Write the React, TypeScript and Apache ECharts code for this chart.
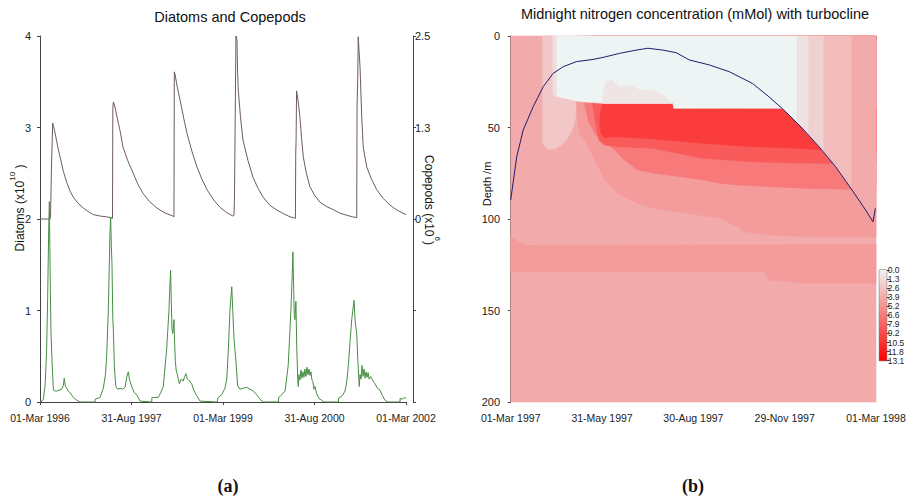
import React, { useEffect, useRef } from 'react';
import * as echarts from 'echarts';

// ---------- Panel (a): Diatoms and Copepods ----------
const DATES_A = ['01-Mar 1996', '31-Aug 1997', '01-Mar 1999', '31-Aug 2000', '01-Mar 2002'];
const SPAN_A = 2191; // days from 01-Mar 1996 to 01-Mar 2002
const DIATOM_TICKS = [0, 1, 2, 3, 4];
const COPEPOD_LABELS: Record<string, string> = { '0': '0', '1.25': '1.3', '2.5': '2.5' };

// [day since 01-Mar 1996, diatoms x1e10]
const DIATOMS: number[][] = [
  [0, 0], [12, 0.01], [20, 0.03], [30, 0.17], [36, 0.4], [40, 0.6], [46, 1.15], [52, 1.88], [56, 2.19], [59, 1.7],
  [62, 1.2], [66, 0.75], [72, 0.45], [80, 0.13], [90, 0.12], [100, 0.12], [115, 0.13], [130, 0.14], [140, 0.18],
  [145, 0.26], [152, 0.17], [160, 0.15], [170, 0.12], [180, 0.1], [200, 0.05], [220, 0.02], [239, 0],
  [329, 0], [330, 0.03], [359, 0.05], [379, 0.15], [392, 0.3], [399, 0.5], [409, 1.0], [419, 1.85], [423, 2.02],
  [427, 1.7], [431, 1.5], [436, 0.9], [439, 0.8], [445, 0.4], [449, 0.28], [454, 0.17], [465, 0.14], [479, 0.15],
  [495, 0.14], [509, 0.16], [520, 0.28], [529, 0.33], [535, 0.25], [549, 0.17], [565, 0.1], [579, 0.08], [599, 0.01],
  [669, 0], [670, 0.05], [708, 0.05], [722, 0.1], [738, 0.17], [758, 0.57], [772, 1.0], [778, 1.3], [782, 1.44],
  [786, 1.1], [790, 0.8], [795, 0.75], [802, 0.9], [806, 0.65], [810, 0.45], [815, 0.35], [822, 0.3], [828, 0.25],
  [835, 0.2], [845, 0.25], [858, 0.23], [866, 0.28], [874, 0.31], [882, 0.25], [890, 0.24], [898, 0.22], [908, 0.2],
  [920, 0.13], [938, 0.07], [958, 0.01],
  [1060, 0], [1067, 0.05], [1088, 0.08], [1107, 0.15], [1118, 0.25], [1127, 0.55], [1137, 1.0], [1148, 1.26],
  [1154, 1.0], [1161, 0.7], [1168, 0.55], [1173, 0.45], [1183, 0.18], [1197, 0.14], [1215, 0.15], [1237, 0.16],
  [1257, 0.14], [1277, 0.12], [1297, 0.08], [1317, 0.03], [1337, 0],
  [1427, 0], [1428, 0.05], [1437, 0.06], [1467, 0.12], [1486, 0.4], [1502, 1.0], [1510, 1.4], [1514, 1.64],
  [1518, 1.3], [1522, 0.95], [1526, 0.9], [1532, 1.1], [1537, 0.6], [1543, 0.25], [1546, 0.17], [1550, 0.3],
  [1556, 0.24], [1562, 0.35], [1568, 0.26], [1574, 0.33], [1580, 0.27], [1586, 0.36], [1592, 0.28], [1598, 0.38],
  [1604, 0.3], [1610, 0.36], [1616, 0.29], [1622, 0.33], [1628, 0.24], [1634, 0.22], [1640, 0.14], [1646, 0.17],
  [1656, 0.09], [1670, 0.04], [1686, 0.02], [1700, 0],
  [1786, 0], [1787, 0.04], [1810, 0.07], [1826, 0.12], [1836, 0.22], [1846, 0.4], [1856, 0.66], [1866, 0.9],
  [1880, 1.11], [1886, 0.9], [1896, 0.74], [1903, 0.45], [1911, 0.17], [1916, 0.3], [1922, 0.25], [1928, 0.4],
  [1934, 0.28], [1940, 0.36], [1946, 0.26], [1952, 0.33], [1958, 0.27], [1964, 0.32], [1970, 0.25], [1980, 0.28],
  [1990, 0.24], [2005, 0.2], [2020, 0.15], [2035, 0.13], [2050, 0.07], [2065, 0.02], [2080, 0], [2155, 0],
  [2156, 0.04], [2170, 0.03], [2180, 0.05], [2191, 0.04],
];

// [day since 01-Mar 1996, copepods x1e6]
const COPEPODS: number[][] = [
  [0, 0], [60, 0], [63, 0.02], [66, 0.02], [69, 0.75], [76, 1.31], [80, 1.28], [90, 1.18], [105, 1.0], [120, 0.85],
  [140, 0.65], [160, 0.5], [180, 0.38], [199, 0.3], [230, 0.21], [259, 0.15], [290, 0.1], [319, 0.06], [360, 0.04],
  [399, 0.03], [434, 0.01], [436, 1.5], [439, 1.6], [449, 1.53], [465, 1.35], [479, 1.21], [497, 0.98], [525, 0.8],
  [557, 0.63], [585, 0.48], [617, 0.35], [655, 0.24], [700, 0.15], [750, 0.08], [796, 0.04], [802, 0.03],
  [804, 2.01], [808, 1.98], [822, 1.8], [838, 1.63], [860, 1.38], [880, 1.17], [910, 0.92], [940, 0.71], [970, 0.54],
  [1000, 0.4], [1040, 0.26], [1077, 0.16], [1115, 0.09], [1155, 0.04], [1161, 0.05], [1164, 0.25], [1173, 2.5],
  [1179, 2.45], [1183, 2.0], [1187, 1.76], [1200, 1.4], [1215, 1.08], [1245, 0.8], [1275, 0.57], [1305, 0.42],
  [1335, 0.3], [1375, 0.19], [1419, 0.12], [1460, 0.07], [1497, 0.03], [1529, 0.01], [1531, 0.9], [1533, 1.07],
  [1536, 1.75], [1546, 1.6], [1556, 1.39], [1566, 1.1], [1576, 0.85], [1595, 0.62], [1616, 0.44], [1645, 0.32],
  [1676, 0.23], [1715, 0.17], [1754, 0.13], [1795, 0.08], [1838, 0.05], [1870, 0.03], [1896, 0.02], [1898, 1.55],
  [1902, 1.9], [1905, 2.49], [1910, 2.3], [1916, 2.07], [1926, 1.39], [1935, 0.98], [1956, 0.71], [1985, 0.54],
  [2016, 0.4], [2055, 0.28], [2095, 0.19], [2125, 0.14], [2155, 0.1], [2191, 0.06],
];

// ---------- Panel (b): nitrogen field ----------
const DATES_B = ['01-Mar 1997', '31-May 1997', '30-Aug 1997', '29-Nov 1997', '01-Mar 1998'];
const SPAN_B = 365;
const COLORBAR_MAX = 13.1;

// turbocline [day since 01-Mar 1997, depth m]
const TURBOCLINE: number[][] = [
  [0, 89.6], [6, 66], [12.5, 51.4], [22.5, 38.6], [32.5, 27.7], [42.4, 20.4], [52.4, 16.8], [65.7, 14.0],
  [82.2, 12.8], [92.2, 11.7], [108.8, 9.5], [125.5, 7.7], [137, 6.7], [152, 7.7], [165.3, 9.1], [178.5, 13.1],
  [198.4, 15.8], [218.3, 19.5], [241.5, 25.9], [258, 33.2], [274.8, 41.4], [291.3, 50.4], [308, 60.5],
  [324.6, 71.4], [341.1, 84.2], [354.5, 95], [362, 101.5], [364.4, 94.2],
];

// concentration regions: boundaries as [day, depth]
const N_BASE = [[0, 0], [365, 0], [365, 200], [0, 200]];
const N_DEEP = [[0, 109.7], [8, 112.5], [16, 114.5], [365, 114], [365, 135], [291, 135], [258, 133.3], [253, 128.8], [0, 128.8]];
const N_LIGHT = [[32, 0], [46, 0], [46, 33], [65.7, 35.5], [65.7, 40], [64, 47], [60, 53], [54, 58], [45, 61.5], [37, 62], [32, 59]];
const N_LIGHTER = [[42, 0], [46, 0], [46, 33], [42, 32]];
const N_L1 = [[65.7, 0], [365, 0], [365, 109.7], [293, 109.7], [260, 108.7], [233.3, 106.9], [226.6, 104.2], [210, 99.6],
  [176.8, 96.9], [143.7, 94.2], [127, 91.4], [107.1, 86], [93.9, 78.7], [84, 67.8], [74, 56.8], [69, 54.1], [67, 45.9], [65.7, 37.7]];
const N_L2 = [[74, 0], [365, 0], [365, 84], [293, 83.2], [260, 82.3], [226.6, 81.4], [210, 80.5], [193.5, 78.7], [170.3, 76.9],
  [143.7, 75], [127, 73.2], [113.8, 67.8], [103.8, 62.3], [95, 58], [85, 54], [78, 47], [74, 37.5]];
const N_L3 = [[82, 0], [365, 0], [365, 70], [288, 69.4], [241.6, 68.7], [191.8, 66.8], [142, 61.4], [108.8, 60.5],
  [93.9, 59.6], [88, 56.8], [85.6, 50], [82, 37.5]];
const N_CORE = [[92, 36.8], [162, 36.8], [163, 39.5], [365, 39.5], [365, 62.3], [311, 62.3], [288, 61.4], [241.6, 60.5],
  [191.8, 58.6], [148.7, 56.5], [108.8, 55], [100, 55.2], [93, 55.5], [90, 53], [89, 48], [89.5, 42]];
const N_SURFACE_TOP = [[46, 0], [286.4, 0]];
const N_SURFACE_BOTTOM = [[163, 39.5], [162, 36.8], [92, 36.8], [74, 36], [65.7, 35.5], [46, 33]];
const N_SURFACE_TC = [286.4, 270.9];
const N_WISP = [[92, 33], [95, 25], [101, 24], [109, 28], [120, 27], [129, 29.5], [145, 30], [154, 33], [160.6, 36.8], [92, 36.8]];
const N_STRIPE_EDGES = [286.4, 298, 313, 341, 365];
const N_STRIPE_VALUES = [1.0, 1.9, 3.0, 3.95];
const N_VALUES = [3.95, 4.7, 2.4, 1.3, 4.8, 6.6, 8.2, 9.9, 0, 0.8];

function tcDepth(d: number): number {
  for (let i = 0; i < TURBOCLINE.length - 1; i++) {
    const [d0, z0] = TURBOCLINE[i];
    const [d1, z1] = TURBOCLINE[i + 1];
    if (d >= d0 && d <= d1) return z0 + ((d - d0) / (d1 - d0)) * (z1 - z0);
  }
  return TURBOCLINE[TURBOCLINE.length - 1][1];
}
function tcSeg(from: number, to: number): number[][] {
  const lo = Math.min(from, to), hi = Math.max(from, to);
  const pts = [[lo, tcDepth(lo)], ...TURBOCLINE.filter((p) => p[0] > lo && p[0] < hi), [hi, tcDepth(hi)]];
  return from > to ? pts.reverse() : pts;
}

const SURFACE = [...N_SURFACE_TOP, ...tcSeg(N_SURFACE_TC[0], N_SURFACE_TC[1]), ...N_SURFACE_BOTTOM];
const STRIPES = N_STRIPE_VALUES.map((_, i) => {
  const a = N_STRIPE_EDGES[i], b = N_STRIPE_EDGES[i + 1];
  return [[a, 0], [b, 0], ...tcSeg(b, a)];
});
const LAYERS = [N_BASE, N_DEEP, N_LIGHT, N_LIGHTER, N_L1, N_L2, N_L3, N_CORE, SURFACE, N_WISP, ...STRIPES];
const LAYER_VALUES = [...N_VALUES, ...N_STRIPE_VALUES];

const FONT = 'Liberation Sans';
const AXIS_COLOR = '#444';
const LABEL_COLOR = '#222';
const CMAP = ['#eef4f4', '#ff0000'];

export default function App() {
  const ref = useRef<HTMLDivElement>(null);
  useEffect(() => {
    const chart = echarts.init(ref.current!, null, { renderer: 'svg' });
    const axisCommon = {
      axisLine: { show: true, lineStyle: { color: AXIS_COLOR, width: 1 } },
      axisTick: { show: true, length: 3, lineStyle: { color: AXIS_COLOR } },
      axisLabel: { color: LABEL_COLOR, fontSize: 10.5, fontFamily: FONT, margin: 4 },
      splitLine: { show: false },
    };
    const stepA = SPAN_A / (DATES_A.length - 1);
    const stepB = SPAN_B / (DATES_B.length - 1);
    const option: any = {
      animation: false,
      textStyle: { fontFamily: FONT },
      grid: [
        { left: 40, top: 36, width: 366, height: 366 },
        { left: 510.7, top: 36, width: 365.3, height: 366 },
        { left: 879.3, top: 270, width: 7.4, height: 90.7, show: true, borderColor: '#333', borderWidth: 0.8 },
      ],
      xAxis: [
        {
          ...axisCommon, gridIndex: 0, type: 'value', min: 0, max: SPAN_A, interval: stepA, offset: 6,
          axisLabel: { ...axisCommon.axisLabel, formatter: (v: number) => DATES_A[Math.round(v / stepA)] ?? '' },
        },
        {
          ...axisCommon, gridIndex: 1, type: 'value', min: 0, max: SPAN_B, interval: stepB, offset: 6,
          axisLabel: { ...axisCommon.axisLabel, formatter: (v: number) => DATES_B[Math.round(v / stepB)] ?? '' },
        },
        { gridIndex: 2, type: 'category', data: ['c'], show: false },
      ],
      yAxis: [
        {
          ...axisCommon, gridIndex: 0, type: 'value', min: DIATOM_TICKS[0], max: DIATOM_TICKS[DIATOM_TICKS.length - 1],
          interval: 1, offset: 5, axisLabel: { ...axisCommon.axisLabel, fontSize: 11 },
        },
        {
          ...axisCommon, gridIndex: 0, type: 'value', position: 'right', min: -2.5, max: 2.5, interval: 1.25, offset: 7,
          axisLabel: { ...axisCommon.axisLabel, fontSize: 11, margin: 2, formatter: (v: number) => COPEPOD_LABELS[String(v)] ?? '' },
        },
        {
          ...axisCommon, gridIndex: 1, type: 'value', inverse: true, min: 0, max: 200, interval: 50, offset: 6.7,
          axisLabel: { ...axisCommon.axisLabel, fontSize: 11 },
        },
        {
          gridIndex: 2, type: 'value', position: 'right', inverse: true, min: 0, max: COLORBAR_MAX, interval: COLORBAR_MAX / 10,
          axisLine: { show: false },
          axisTick: { show: true, length: 3, lineStyle: { color: '#333' } },
          axisLabel: {
            color: LABEL_COLOR, fontSize: 8.5, fontFamily: FONT, margin: 1,
            formatter: (v: number) => (Math.round(v * 10 + 1e-6) / 10).toFixed(1),
          },
          splitLine: { show: false },
        },
      ],
      visualMap: {
        type: 'continuous', show: false, min: 0, max: COLORBAR_MAX, dimension: 1, seriesIndex: 2,
        inRange: { color: CMAP },
      },
      series: [
        {
          type: 'line', xAxisIndex: 0, yAxisIndex: 1, data: COPEPODS, showSymbol: false, symbol: 'none',
          lineStyle: { color: '#6d5b60', width: 1 }, z: 3,
        },
        {
          type: 'line', xAxisIndex: 0, yAxisIndex: 0, data: DIATOMS, showSymbol: false, symbol: 'none',
          lineStyle: { color: '#478d43', width: 1 }, z: 3,
        },
        {
          type: 'custom', xAxisIndex: 1, yAxisIndex: 2, data: LAYER_VALUES.map((v, i) => [i, v]),
          renderItem: (params: any, api: any) => {
            const idx = api.value(0);
            const pts = LAYERS[idx].map((p) => api.coord(p));
            const c = api.visual('color');
            return { type: 'polygon', shape: { points: pts }, style: { fill: c, stroke: c, lineWidth: 0.6 } };
          },
          z: 1,
        },
        {
          type: 'line', xAxisIndex: 1, yAxisIndex: 2, data: TURBOCLINE, showSymbol: false, symbol: 'none',
          lineStyle: { color: '#1d1d6b', width: 1 }, z: 4,
        },
        {
          type: 'bar', xAxisIndex: 2, yAxisIndex: 3, data: [COLORBAR_MAX], barWidth: '100%',
          itemStyle: {
            color: new echarts.graphic.LinearGradient(0, 0, 0, 1, [
              { offset: 0, color: CMAP[0] },
              { offset: 1, color: CMAP[1] },
            ]),
          },
        },
      ],
      graphic: [
        { type: 'text', x: 230, y: 17, style: { text: 'Diatoms and Copepods', font: `14.5px "${FONT}"`, fill: '#111', align: 'center', verticalAlign: 'middle' } },
        { type: 'text', x: 695, y: 14, style: { text: 'Midnight nitrogen concentration (mMol) with turbocline', font: `14.5px "${FONT}"`, fill: '#111', align: 'center', verticalAlign: 'middle' } },
        {
          type: 'text', x: 17, y: 208, rotation: Math.PI / 2,
          style: {
            text: '{a|Diatoms (x10}{s|10}{a| )}', align: 'center', verticalAlign: 'middle',
            rich: {
              a: { fontSize: 12, fontFamily: FONT, fill: '#111', lineHeight: 18, verticalAlign: 'bottom' },
              s: { fontSize: 8, fontFamily: FONT, fill: '#111', lineHeight: 8, verticalAlign: 'top' },
            },
          },
        },
        {
          type: 'text', x: 432, y: 200, rotation: -Math.PI / 2,
          style: {
            text: '{a|Copepods (x10}{s|6}{a|)}', align: 'center', verticalAlign: 'middle',
            rich: {
              a: { fontSize: 12, fontFamily: FONT, fill: '#111', lineHeight: 18, verticalAlign: 'bottom' },
              s: { fontSize: 8, fontFamily: FONT, fill: '#111', lineHeight: 8, verticalAlign: 'top' },
            },
          },
        },
        { type: 'text', x: 487, y: 184, rotation: Math.PI / 2, style: { text: 'Depth /m', font: `11px "${FONT}"`, fill: '#111', align: 'center', verticalAlign: 'middle' } },
        { type: 'text', x: 228, y: 486, style: { text: '(a)', font: 'bold 18px "Liberation Serif"', fill: '#111', align: 'center', verticalAlign: 'middle' } },
        { type: 'text', x: 693, y: 486, style: { text: '(b)', font: 'bold 18px "Liberation Serif"', fill: '#111', align: 'center', verticalAlign: 'middle' } },
      ],
    };
    chart.setOption(option);
    return () => chart.dispose();
  }, []);
  return <div ref={ref} style={{ position: 'fixed', left: 0, top: 0, width: 915, height: 499, background: '#fff' }} />;
}
